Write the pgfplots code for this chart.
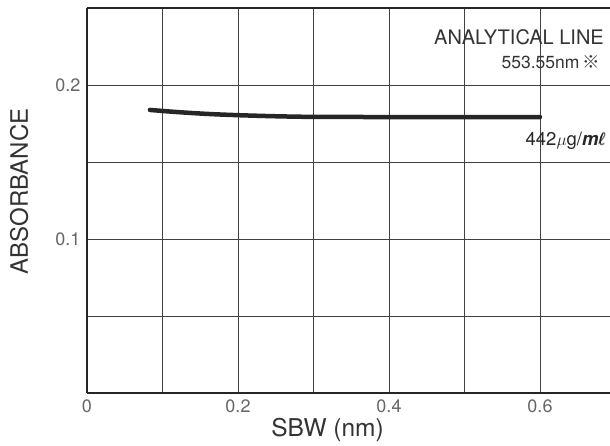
\documentclass[border=0pt]{standalone}
\usepackage{pgfplots}
\pgfplotsset{compat=1.18}
\usepackage{amsmath}
\usepackage{fontspec}
\setmainfont{TeX Gyre Heros}
\newfontfamily\cjk{Noto Sans CJK JP}
\begin{document}
\begin{tikzpicture}
\begin{axis}[
  at={(0,0)}, anchor=south west,
  scale only axis, width=523pt, height=385pt,
  xmin=0, xmax=0.69272, ymin=0, ymax=0.25,
  axis lines=left,
  axis line style={-, line width=1.8pt, black!85},
  xtick={0,0.1,0.2,0.3,0.4,0.5,0.6},
  xticklabels={0,,0.2,,0.4,,0.6},
  ytick={0,0.05,0.1,0.15,0.2},
  yticklabels={,,0.1,,0.2},
  grid=major,
  grid style={line width=0.7pt, black!75},
  tick style={draw=none},
  ticklabel style={font=\fontsize{18}{18}\selectfont, text=black!60},
  xticklabel style={yshift=-1pt},
  yticklabel style={xshift=-1pt},
  xlabel={SBW (nm)},
  ylabel={ABSORBANCE},
  xlabel style={at={(axis description cs:0.460,-0.097)}, anchor=center, font=\fontsize{24.5}{24.5}\selectfont, text=black!80},
  ylabel style={at={(axis description cs:-0.130,0.523)}, anchor=center, rotate=0, font=\fontsize{24}{24}\selectfont, text=black!80},
  clip=false,
]
\addplot[line width=4.5pt, black!85, line cap=round, smooth, tension=0.5] coordinates {
  (0.0834,0.1838) (0.12,0.1824) (0.16,0.1812) (0.2,0.1804) (0.25,0.1797)
  (0.3,0.1793) (0.4,0.1792) (0.5,0.1792) (0.6,0.1792)
};
\draw[line width=1.8pt, black!85] (rel axis cs:0,1) -- (rel axis cs:1,1);
\node[anchor=east, inner sep=0pt, font=\fontsize{20}{20}\selectfont, text=black!80] at (axis cs:0.6848,0.2312) {ANALYTICAL LINE};
\node[anchor=east, inner sep=0pt, font=\fontsize{17.5}{17.5}\selectfont, text=black!80] at (axis cs:0.6795,0.2147) {553.55nm\,{\cjk ※}};
\node[anchor=east, inner sep=0pt, font=\fontsize{18.5}{18.5}\selectfont, text=black!85] at (axis cs:0.6874,0.1640) {442$\mu$g/\textbf{\textit{m}}$\pmb{\ell}$};
\end{axis}
\pgfresetboundingbox
\path (-87pt,-53pt) rectangle (523pt,393pt);
\end{tikzpicture}
\end{document}
